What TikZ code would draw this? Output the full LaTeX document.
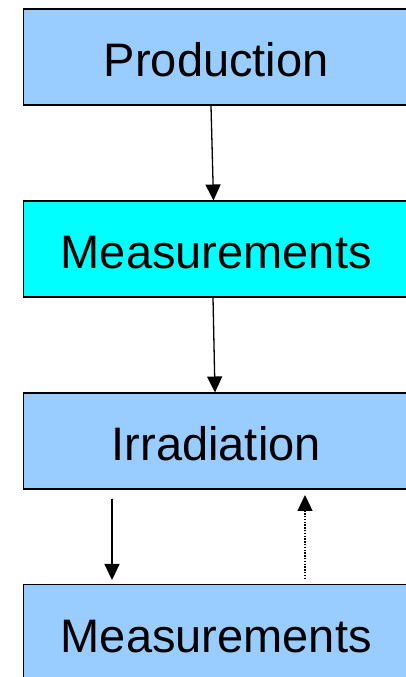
\documentclass[tikz,border=0pt]{standalone}
\usepackage{fontspec}
\setmainfont{Liberation Sans}
\usetikzlibrary{arrows.meta}
\definecolor{boxblue}{HTML}{99CCFF}
\definecolor{boxcyan}{HTML}{00FFFF}
\begin{document}
\begin{tikzpicture}[x=1pt,y=1pt,
  stagebox/.style={draw=black,line width=1.5pt,minimum width=386pt,minimum height=96pt,
    inner sep=0pt,text height=38.7pt,text depth=0pt,font=\fontsize{47}{47}\selectfont,anchor=north west},
  flow/.style={line width=1.3pt,-{Triangle[width=15pt,length=16pt]}},
  back/.style={line width=1.2pt,dash pattern=on 1.4pt off 1.4pt,-{Triangle[width=15pt,length=16pt]}}]
\useasboundingbox (0,0) rectangle (406,677);
\clip (0,0) rectangle (406,677);
\node[stagebox,fill=boxblue] (prod) at (22.5,668.5) {Production};
\node[stagebox,fill=boxcyan] (meas1) at (22.5,476.5) {Measurements};
\node[stagebox,fill=boxblue] (irr) at (22.5,284.5) {Irradiation};
\node[stagebox,fill=boxblue] (meas2) at (22.5,93) {Measurements};
\draw[flow] ([xshift=188.5pt]prod.south west) -- ([xshift=191pt]meas1.north west);
\draw[flow] ([xshift=190.5pt]meas1.south west) -- ([xshift=192.5pt]irr.north west);
\draw[flow] ([xshift=89.5pt,yshift=-9pt]irr.south west) -- ([xshift=89.5pt,yshift=4pt]meas2.north west);
\draw[back] ([xshift=282.5pt,yshift=5pt]meas2.north west) -- ([xshift=282.5pt,yshift=-5pt]irr.south west);
\end{tikzpicture}
\end{document}
